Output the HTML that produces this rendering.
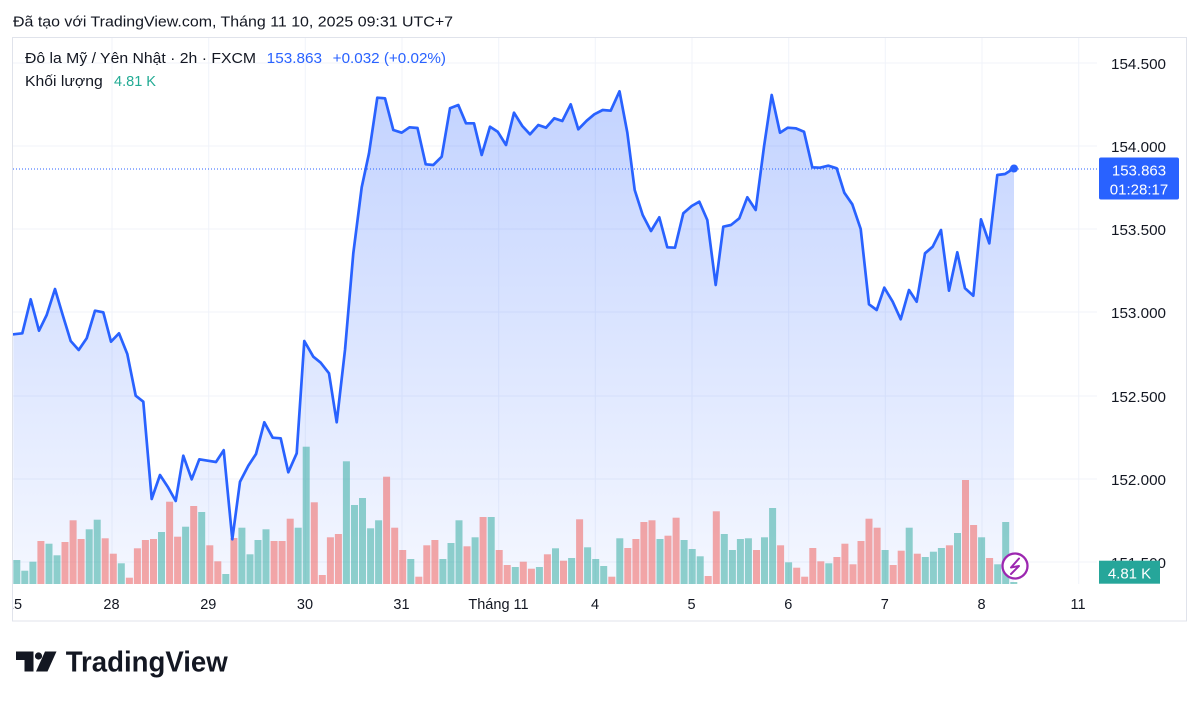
<!DOCTYPE html>
<html><head><meta charset="utf-8"><style>
html,body{margin:0;padding:0;background:#fff;}
svg{display:block;font-family:"Liberation Sans","DejaVu Sans",sans-serif;}
.t{fill:rgba(38,166,154,0.5);}
.r{fill:rgba(239,83,80,0.5);}
.ax{font-size:15px;fill:#131722;}
.dt{font-size:14.5px;fill:#131722;text-anchor:middle;}
</style></head><body>
<svg width="1200" height="702" viewBox="0 0 1200 702" xmlns="http://www.w3.org/2000/svg">
<defs>
<linearGradient id="g" x1="0" y1="91" x2="0" y2="584" gradientUnits="userSpaceOnUse">
<stop offset="0" stop-color="rgb(41,98,255)" stop-opacity="0.28"/>
<stop offset="1" stop-color="rgb(41,98,255)" stop-opacity="0.05"/>
</linearGradient>
<clipPath id="pc"><rect x="13" y="38" width="1084" height="546"/></clipPath>
<clipPath id="tc"><rect x="13" y="584" width="1174" height="37"/></clipPath>
</defs>
<rect width="1200" height="702" fill="#fff"/>
<text x="13" y="26.5" font-size="15" fill="#131722" textLength="440" lengthAdjust="spacingAndGlyphs">Đã tạo với TradingView.com, Tháng 11 10, 2025 09:31 UTC+7</text>
<rect x="12.5" y="37.5" width="1174" height="583.5" fill="#fff" stroke="#e0e3eb" stroke-width="1"/>
<g stroke="#f0f3fa" stroke-width="1">
<line x1="13" y1="63" x2="1097" y2="63"/><line x1="13" y1="146" x2="1097" y2="146"/><line x1="13" y1="229" x2="1097" y2="229"/><line x1="13" y1="312" x2="1097" y2="312"/><line x1="13" y1="396" x2="1097" y2="396"/><line x1="13" y1="479" x2="1097" y2="479"/><line x1="13" y1="562" x2="1097" y2="562"/>
<line x1="112" y1="38" x2="112" y2="584"/><line x1="208.7" y1="38" x2="208.7" y2="584"/><line x1="305.3" y1="38" x2="305.3" y2="584"/><line x1="402" y1="38" x2="402" y2="584"/><line x1="498.7" y1="38" x2="498.7" y2="584"/><line x1="595.3" y1="38" x2="595.3" y2="584"/><line x1="692" y1="38" x2="692" y2="584"/><line x1="788.7" y1="38" x2="788.7" y2="584"/><line x1="885.3" y1="38" x2="885.3" y2="584"/><line x1="982" y1="38" x2="982" y2="584"/><line x1="1078.7" y1="38" x2="1078.7" y2="584"/>
</g>
<g clip-path="url(#pc)">
<polygon fill="url(#g)" points="13.3,334.3 22.3,333.3 30.7,299.3 39,330.7 46.7,315 55,289 62.7,315 70.7,341 78.7,350 86.7,338.3 95,310.7 103.3,312.3 111,341.7 119,333.3 127.3,354 135.7,395.7 143.3,401.7 151.7,499 160,475 167.7,486.7 175.7,501 183.3,455.7 191.7,479.3 199.3,459.3 207.7,460.7 216,462 223.7,450.2 232.3,539.3 240,481.7 248.3,465.7 256,454 264.3,422.3 272.7,437.7 280.7,438.3 288.3,472.3 296.7,453.3 304.3,341 313.3,356.7 320.7,362.7 329,373.3 336.7,422.3 345,350 353.3,253.3 361.7,187.3 369,153.3 377.3,97.7 385,98.3 393.3,130 401.7,132.7 409.5,127.3 417.5,128 425.7,164.3 433.3,165 441.7,156.7 450,108.3 458.3,105 466,123.3 474,123.3 481.7,155 490,126.7 497.7,131.7 506,145 514,112.7 522.3,126 530,134.3 538.3,125 546,127.7 554.3,118.3 562.3,121 570.7,104.3 578.3,129.3 586.7,120.7 594.3,114.3 602.7,110 610.7,110.7 619.5,91.3 627.3,132.5 634.7,190 642.7,215 651,231 659.3,217.3 667.3,247.3 675,247.7 683.3,213.3 691.7,206 699.3,201.7 707.3,220 715.7,285 723.3,226.7 731,225 739.3,218.3 747.3,197.3 755.7,210 764,146.7 771.7,95 780,132.7 787.7,127.7 795.7,128.3 804,131.7 812.3,167.3 820,167.7 828.3,165.7 836.7,168.3 844.3,192.7 852.3,204.3 860.7,229 869,304.3 876.7,310 884.3,287.7 892.7,301.7 900.7,319.3 909,290 916.7,301.7 925,253.3 932.7,246.7 941,230 949,290.7 957.3,252.3 965,288.3 973.3,295.7 981,219.3 989.3,243.3 997.3,175 1005,174 1014,168.3 1014,584 13.3,584"/>
<g>
<rect class="t" x="13.3" y="560" width="7" height="24"/>
<rect class="t" x="21.3" y="570.7" width="7" height="13.3"/>
<rect class="t" x="29.4" y="561.7" width="7" height="22.3"/>
<rect class="r" x="37.4" y="541" width="7" height="43"/>
<rect class="t" x="45.5" y="543.7" width="7" height="40.3"/>
<rect class="t" x="53.5" y="555.3" width="7" height="28.7"/>
<rect class="r" x="61.5" y="542" width="7" height="42"/>
<rect class="r" x="69.6" y="520.3" width="7" height="63.7"/>
<rect class="r" x="77.6" y="539" width="7" height="45"/>
<rect class="t" x="85.7" y="529.3" width="7" height="54.7"/>
<rect class="t" x="93.7" y="519.7" width="7" height="64.3"/>
<rect class="r" x="101.7" y="538.3" width="7" height="45.7"/>
<rect class="r" x="109.8" y="553.7" width="7" height="30.3"/>
<rect class="t" x="117.8" y="563.3" width="7" height="20.7"/>
<rect class="r" x="125.9" y="577.7" width="7" height="6.3"/>
<rect class="r" x="133.9" y="548.3" width="7" height="35.7"/>
<rect class="r" x="141.9" y="540" width="7" height="44"/>
<rect class="r" x="150" y="539" width="7" height="45"/>
<rect class="t" x="158" y="532" width="7" height="52"/>
<rect class="r" x="166.1" y="501.7" width="7" height="82.3"/>
<rect class="r" x="174.1" y="536.7" width="7" height="47.3"/>
<rect class="t" x="182.1" y="526.7" width="7" height="57.3"/>
<rect class="r" x="190.2" y="506" width="7" height="78"/>
<rect class="t" x="198.2" y="512" width="7" height="72"/>
<rect class="r" x="206.3" y="545.3" width="7" height="38.7"/>
<rect class="r" x="214.3" y="561.3" width="7" height="22.7"/>
<rect class="t" x="222.3" y="574" width="7" height="10"/>
<rect class="r" x="230.4" y="538" width="7" height="46"/>
<rect class="t" x="238.4" y="527.7" width="7" height="56.3"/>
<rect class="t" x="246.5" y="554.3" width="7" height="29.7"/>
<rect class="t" x="254.5" y="540" width="7" height="44"/>
<rect class="t" x="262.5" y="529.3" width="7" height="54.7"/>
<rect class="r" x="270.6" y="541" width="7" height="43"/>
<rect class="r" x="278.6" y="541" width="7" height="43"/>
<rect class="r" x="286.7" y="518.7" width="7" height="65.3"/>
<rect class="t" x="294.7" y="527.7" width="7" height="56.3"/>
<rect class="t" x="302.7" y="446.7" width="7" height="137.3"/>
<rect class="r" x="310.8" y="502.3" width="7" height="81.7"/>
<rect class="r" x="318.8" y="575" width="7" height="9"/>
<rect class="r" x="326.9" y="537.3" width="7" height="46.7"/>
<rect class="r" x="334.9" y="534" width="7" height="50"/>
<rect class="t" x="342.9" y="461.3" width="7" height="122.7"/>
<rect class="t" x="351" y="505" width="7" height="79"/>
<rect class="t" x="359" y="498" width="7" height="86"/>
<rect class="t" x="367.1" y="528.3" width="7" height="55.7"/>
<rect class="t" x="375.1" y="520.3" width="7" height="63.7"/>
<rect class="r" x="383.1" y="476.7" width="7" height="107.3"/>
<rect class="r" x="391.2" y="527.7" width="7" height="56.3"/>
<rect class="r" x="399.2" y="550" width="7" height="34"/>
<rect class="t" x="407.3" y="559" width="7" height="25"/>
<rect class="r" x="415.3" y="576.7" width="7" height="7.3"/>
<rect class="r" x="423.3" y="545.3" width="7" height="38.7"/>
<rect class="r" x="431.4" y="540" width="7" height="44"/>
<rect class="t" x="439.4" y="559" width="7" height="25"/>
<rect class="t" x="447.5" y="543" width="7" height="41"/>
<rect class="t" x="455.5" y="520.3" width="7" height="63.7"/>
<rect class="r" x="463.5" y="546.3" width="7" height="37.7"/>
<rect class="t" x="471.6" y="537.3" width="7" height="46.7"/>
<rect class="r" x="479.6" y="517" width="7" height="67"/>
<rect class="t" x="487.7" y="517" width="7" height="67"/>
<rect class="r" x="495.7" y="550" width="7" height="34"/>
<rect class="r" x="503.7" y="565" width="7" height="19"/>
<rect class="t" x="511.8" y="567" width="7" height="17"/>
<rect class="r" x="519.8" y="561.7" width="7" height="22.3"/>
<rect class="r" x="527.9" y="568.7" width="7" height="15.3"/>
<rect class="t" x="535.9" y="567" width="7" height="17"/>
<rect class="r" x="543.9" y="554.3" width="7" height="29.7"/>
<rect class="t" x="552" y="548.3" width="7" height="35.7"/>
<rect class="r" x="560" y="560.7" width="7" height="23.3"/>
<rect class="t" x="568.1" y="558" width="7" height="26"/>
<rect class="r" x="576.1" y="519.3" width="7" height="64.7"/>
<rect class="t" x="584.1" y="547.3" width="7" height="36.7"/>
<rect class="t" x="592.2" y="559" width="7" height="25"/>
<rect class="t" x="600.2" y="566" width="7" height="18"/>
<rect class="r" x="608.3" y="576.7" width="7" height="7.3"/>
<rect class="t" x="616.3" y="538.3" width="7" height="45.7"/>
<rect class="r" x="624.3" y="548" width="7" height="36"/>
<rect class="r" x="632.4" y="539" width="7" height="45"/>
<rect class="r" x="640.4" y="522" width="7" height="62"/>
<rect class="r" x="648.5" y="520.3" width="7" height="63.7"/>
<rect class="t" x="656.5" y="539" width="7" height="45"/>
<rect class="r" x="664.5" y="535.7" width="7" height="48.3"/>
<rect class="r" x="672.6" y="517.7" width="7" height="66.3"/>
<rect class="t" x="680.6" y="540" width="7" height="44"/>
<rect class="t" x="688.7" y="549" width="7" height="35"/>
<rect class="t" x="696.7" y="556.3" width="7" height="27.7"/>
<rect class="r" x="704.7" y="576" width="7" height="8"/>
<rect class="r" x="712.8" y="511.3" width="7" height="72.7"/>
<rect class="t" x="720.8" y="534" width="7" height="50"/>
<rect class="t" x="728.9" y="550" width="7" height="34"/>
<rect class="t" x="736.9" y="539" width="7" height="45"/>
<rect class="t" x="744.9" y="538.3" width="7" height="45.7"/>
<rect class="r" x="753" y="550" width="7" height="34"/>
<rect class="t" x="761" y="537.3" width="7" height="46.7"/>
<rect class="t" x="769.1" y="508" width="7" height="76"/>
<rect class="r" x="777.1" y="545.3" width="7" height="38.7"/>
<rect class="t" x="785.1" y="562.3" width="7" height="21.7"/>
<rect class="r" x="793.2" y="567.7" width="7" height="16.3"/>
<rect class="r" x="801.2" y="576.7" width="7" height="7.3"/>
<rect class="r" x="809.3" y="548" width="7" height="36"/>
<rect class="r" x="817.3" y="561.3" width="7" height="22.7"/>
<rect class="t" x="825.3" y="563.3" width="7" height="20.7"/>
<rect class="r" x="833.4" y="557" width="7" height="27"/>
<rect class="r" x="841.4" y="543.7" width="7" height="40.3"/>
<rect class="r" x="849.5" y="564.3" width="7" height="19.7"/>
<rect class="r" x="857.5" y="541" width="7" height="43"/>
<rect class="r" x="865.5" y="518.7" width="7" height="65.3"/>
<rect class="r" x="873.6" y="527.7" width="7" height="56.3"/>
<rect class="t" x="881.6" y="550" width="7" height="34"/>
<rect class="r" x="889.7" y="565" width="7" height="19"/>
<rect class="r" x="897.7" y="550.7" width="7" height="33.3"/>
<rect class="t" x="905.7" y="527.7" width="7" height="56.3"/>
<rect class="r" x="913.8" y="553.7" width="7" height="30.3"/>
<rect class="t" x="921.8" y="557" width="7" height="27"/>
<rect class="t" x="929.9" y="551.7" width="7" height="32.3"/>
<rect class="t" x="937.9" y="548" width="7" height="36"/>
<rect class="r" x="945.9" y="545.3" width="7" height="38.7"/>
<rect class="t" x="954" y="533" width="7" height="51"/>
<rect class="r" x="962" y="480" width="7" height="104"/>
<rect class="r" x="970.1" y="525" width="7" height="59"/>
<rect class="t" x="978.1" y="537.3" width="7" height="46.7"/>
<rect class="r" x="986.1" y="558" width="7" height="26"/>
<rect class="t" x="994.2" y="564.3" width="7" height="19.7"/>
<rect class="t" x="1002.2" y="522" width="7" height="62"/>
<rect class="t" x="1010.3" y="582" width="7" height="2"/>
</g>
<line x1="13" y1="169" x2="1097" y2="169" stroke="#2962ff" stroke-width="1" stroke-dasharray="1 2"/>
<polyline fill="none" stroke="#2962ff" stroke-width="2.7" stroke-linejoin="round" stroke-linecap="round" points="13.3,334.3 22.3,333.3 30.7,299.3 39,330.7 46.7,315 55,289 62.7,315 70.7,341 78.7,350 86.7,338.3 95,310.7 103.3,312.3 111,341.7 119,333.3 127.3,354 135.7,395.7 143.3,401.7 151.7,499 160,475 167.7,486.7 175.7,501 183.3,455.7 191.7,479.3 199.3,459.3 207.7,460.7 216,462 223.7,450.2 232.3,539.3 240,481.7 248.3,465.7 256,454 264.3,422.3 272.7,437.7 280.7,438.3 288.3,472.3 296.7,453.3 304.3,341 313.3,356.7 320.7,362.7 329,373.3 336.7,422.3 345,350 353.3,253.3 361.7,187.3 369,153.3 377.3,97.7 385,98.3 393.3,130 401.7,132.7 409.5,127.3 417.5,128 425.7,164.3 433.3,165 441.7,156.7 450,108.3 458.3,105 466,123.3 474,123.3 481.7,155 490,126.7 497.7,131.7 506,145 514,112.7 522.3,126 530,134.3 538.3,125 546,127.7 554.3,118.3 562.3,121 570.7,104.3 578.3,129.3 586.7,120.7 594.3,114.3 602.7,110 610.7,110.7 619.5,91.3 627.3,132.5 634.7,190 642.7,215 651,231 659.3,217.3 667.3,247.3 675,247.7 683.3,213.3 691.7,206 699.3,201.7 707.3,220 715.7,285 723.3,226.7 731,225 739.3,218.3 747.3,197.3 755.7,210 764,146.7 771.7,95 780,132.7 787.7,127.7 795.7,128.3 804,131.7 812.3,167.3 820,167.7 828.3,165.7 836.7,168.3 844.3,192.7 852.3,204.3 860.7,229 869,304.3 876.7,310 884.3,287.7 892.7,301.7 900.7,319.3 909,290 916.7,301.7 925,253.3 932.7,246.7 941,230 949,290.7 957.3,252.3 965,288.3 973.3,295.7 981,219.3 989.3,243.3 997.3,175 1005,174 1014,168.3"/>
<circle cx="1014" cy="168.5" r="4" fill="#2962ff"/>
<circle cx="1015" cy="566" r="12.5" fill="#fff" stroke="#9c27b0" stroke-width="2.3"/>
<path d="M1019,558.5 L1011,567.5 L1019,566 L1011,574" fill="none" stroke="#9c27b0" stroke-width="2" stroke-linejoin="round" stroke-linecap="round"/>
</g>
<text x="25" y="63" font-size="15" fill="#131722" textLength="231" lengthAdjust="spacingAndGlyphs">Đô la Mỹ / Yên Nhật · 2h · FXCM</text>
<text x="266.7" y="63" font-size="15" fill="#2962ff" textLength="55.3" lengthAdjust="spacingAndGlyphs">153.863</text>
<text x="332.7" y="63" font-size="15" fill="#2962ff" textLength="113.3" lengthAdjust="spacingAndGlyphs">+0.032 (+0.02%)</text>
<text x="25" y="86" font-size="15" fill="#131722" textLength="77.7" lengthAdjust="spacingAndGlyphs">Khối lượng</text>
<text x="114" y="86" font-size="15" fill="#22ab94" textLength="42" lengthAdjust="spacingAndGlyphs">4.81 K</text>
<g class="ax">
<text x="1111" y="69" textLength="55" lengthAdjust="spacingAndGlyphs">154.500</text>
<text x="1111" y="152" textLength="55" lengthAdjust="spacingAndGlyphs">154.000</text>
<text x="1111" y="235" textLength="55" lengthAdjust="spacingAndGlyphs">153.500</text>
<text x="1111" y="318" textLength="55" lengthAdjust="spacingAndGlyphs">153.000</text>
<text x="1111" y="402" textLength="55" lengthAdjust="spacingAndGlyphs">152.500</text>
<text x="1111" y="485" textLength="55" lengthAdjust="spacingAndGlyphs">152.000</text>
<text x="1111" y="568" textLength="55" lengthAdjust="spacingAndGlyphs">151.500</text>
</g>
<rect x="1099" y="157.5" width="80" height="42" rx="2" fill="#2962ff"/>
<text x="1139" y="175.3" font-size="15" fill="#fff" text-anchor="middle">153.863</text>
<text x="1139" y="194.3" font-size="15" fill="#fff" text-anchor="middle">01:28:17</text>
<rect x="1099" y="560.7" width="61" height="23" fill="#26a69a"/>
<text x="1129.5" y="578.5" font-size="15" fill="#fff" text-anchor="middle">4.81 K</text>
<g class="dt" clip-path="url(#tc)">
<text x="14" y="609">25</text>
<text x="111.5" y="609">28</text>
<text x="208.3" y="609">29</text>
<text x="305" y="609">30</text>
<text x="401.5" y="609">31</text>
<text x="498.5" y="609">Tháng 11</text>
<text x="595" y="609">4</text>
<text x="691.5" y="609">5</text>
<text x="788.3" y="609">6</text>
<text x="884.8" y="609">7</text>
<text x="981.5" y="609">8</text>
<text x="1078" y="609">11</text>
</g>
<g fill="#131722">
<rect x="16" y="651.5" width="17.5" height="8.5"/>
<rect x="24.5" y="651.5" width="9" height="20"/>
<circle cx="38.5" cy="656" r="3.6"/>
<polygon points="45,651.5 56.5,651.5 47.5,671.5 36,671.5"/>
</g>
<text x="65.7" y="671.7" font-size="29" font-weight="bold" fill="#131722" textLength="162" lengthAdjust="spacingAndGlyphs">TradingView</text>
</svg>
</body></html>
